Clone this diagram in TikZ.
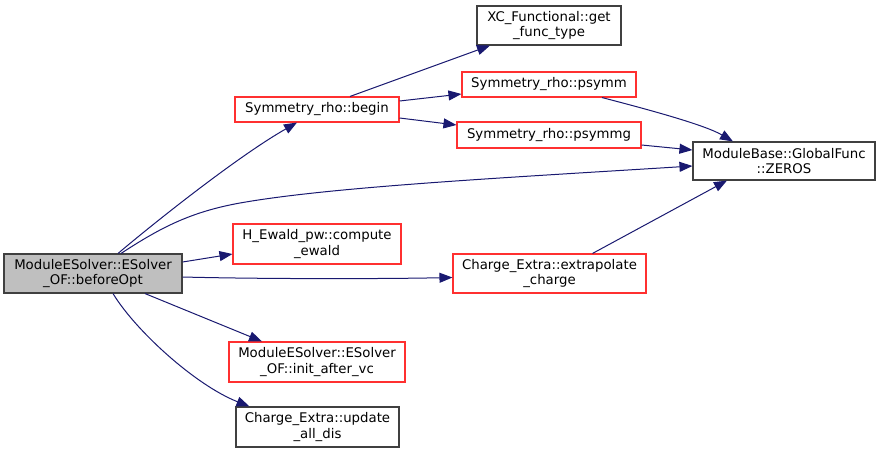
\documentclass[tikz,border=0pt]{standalone}
\usepackage{fontspec}
\setmainfont{DejaVu Sans}
\usetikzlibrary{arrows.meta}
\definecolor{edgeblue}{HTML}{191970}
\definecolor{boxgray}{HTML}{404040}
\definecolor{fillgray}{HTML}{BFBFBF}
\definecolor{boxred}{HTML}{FF3030}
\tikzset{
  fn/.style={draw=boxgray, line width=1.1pt, inner sep=0pt, align=center,
    font=\fontsize{13.3}{15.5}\selectfont, text=black},
  redfn/.style={fn, draw=boxred},
  mainfn/.style={fn, fill=fillgray},
  call/.style={draw=edgeblue, line width=1pt, -{Triangle[length=13pt,width=10pt,fill=edgeblue]}},
}
\begin{document}
\begin{tikzpicture}[x=1pt,y=-1pt]
\useasboundingbox (0,0) rectangle (881,453);
\node[mainfn, minimum width=178pt, minimum height=39pt] (main) at (93,273.5) {ModuleESolver::ESolver\\\_OF::beforeOpt};
\node[redfn, minimum width=164pt, minimum height=25pt] (begin) at (317,109.5) {Symmetry\_rho::begin};
\node[fn, minimum width=144pt, minimum height=39pt] (xc) at (549,25.5) {XC\_Functional::get\\\_func\_type};
\node[redfn, minimum width=174pt, minimum height=25pt] (psymm) at (549,84.5) {Symmetry\_rho::psymm};
\node[redfn, minimum width=184pt, minimum height=26pt] (psymmg) at (549,135) {Symmetry\_rho::psymmg};
\node[fn, minimum width=182pt, minimum height=38pt] (zeros) at (784,161) {ModuleBase::GlobalFunc\\::ZEROS};
\node[redfn, minimum width=168pt, minimum height=40pt] (ewald) at (317,244) {H\_Ewald\_pw::compute\\\_ewald};
\node[redfn, minimum width=193pt, minimum height=39pt] (extrap) at (549.5,273.5) {Charge\_Extra::extrapolate\\\_charge};
\node[redfn, minimum width=176pt, minimum height=40pt] (init) at (317,362) {ModuleESolver::ESolver\\\_OF::init\_after\_vc};
\node[fn, minimum width=163pt, minimum height=40pt] (update) at (317.5,427) {Charge\_Extra::update\\\_all\_dis};

% main -> begin
\draw[call] ([xshift=25pt]main.north) .. controls (160,218) and (240,155) .. ([xshift=-20pt]begin.south);
% main -> ZEROS
\draw[call] ([xshift=28pt]main.north) .. controls (160,228) and (190,212) .. (240,203) .. controls (330,187) and (500,178) .. ([yshift=-5pt]zeros.west);
% main -> ewald
\draw[call] ([yshift=11.5pt]main.east) -- ([yshift=-10pt]ewald.west);
% main -> extrapolate
\draw[call] ([yshift=-3.5pt]main.east) .. controls (260,279) and (380,279) .. ([yshift=-4pt]extrap.west);
% main -> init_after_vc
\draw[call] ([xshift=52pt]main.south) -- ([xshift=-55pt]init.north);
% main -> update_all_dis
\draw[call] ([xshift=20pt]main.south) .. controls (135,330) and (195,385) .. ([xshift=-68pt]update.north);
% begin -> XC
\draw[call] ([xshift=33pt]begin.north) -- ([xshift=-59pt]xc.south);
% begin -> psymm
\draw[call] ([yshift=8.5pt]begin.east) -- ([yshift=-9.5pt]psymm.west);
% begin -> psymmg
\draw[call] ([yshift=-8.5pt]begin.east) -- ([yshift=10pt]psymmg.west);
% psymm -> ZEROS
\draw[call] ([xshift=53pt]psymm.south) .. controls (650,110) and (705,125) .. ([xshift=-51pt]zeros.north);
% psymmg -> ZEROS
\draw[call] ([yshift=-10pt]psymmg.east) -- ([yshift=11pt]zeros.west);
% extrapolate -> ZEROS
\draw[call] ([xshift=43pt]extrap.north) -- ([xshift=-57pt]zeros.south);
\end{tikzpicture}
\end{document}
